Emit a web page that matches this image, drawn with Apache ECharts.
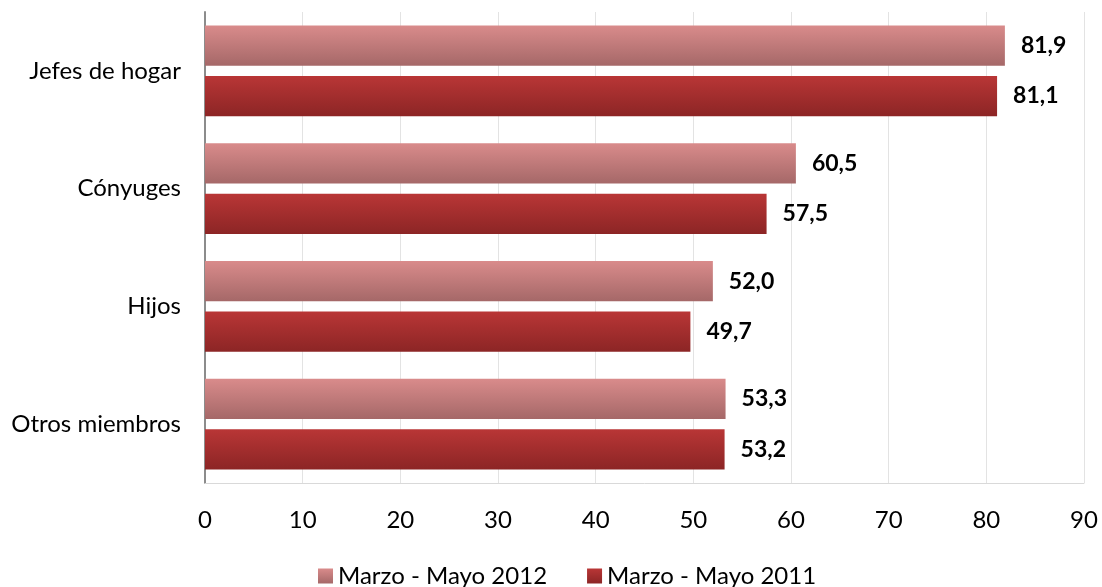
<!DOCTYPE html>
<html><head><meta charset="utf-8">
<script src="https://cdn.jsdelivr.net/npm/echarts@6/dist/echarts.min.js"></script>
<style>html,body{margin:0;padding:0;background:#fff}#c{width:1102px;height:587px}</style>
</head><body><div id="c"></div>
<script>
const categories = ['Jefes de hogar', 'Cónyuges', 'Hijos', 'Otros miembros'];
const seriesNames = ['Marzo - Mayo 2012', 'Marzo - Mayo 2011'];
const values2012 = [81.9, 60.5, 52.0, 53.3];
const values2011 = [81.1, 57.5, 49.7, 53.2];
const xTicks = [0, 90, 10];

const FONT = 'Lato, "Open Sans", sans-serif';
function grad(a, b) {
  return new echarts.graphic.LinearGradient(0, 0, 0, 1, [{offset: 0, color: a}, {offset: 1, color: b}]);
}
const chart = echarts.init(document.getElementById('c'));
const lbl = {
  show: true, position: 'right', distance: 16,
  formatter: p => p.value.toFixed(1).replace('.', ','),
  fontFamily: FONT, fontWeight: 'bold', fontSize: 23, color: '#000'
};
chart.setOption({
  animation: false,
  grid: {left: 205, right: 18, top: 12, bottom: 104, containLabel: false},
  legend: {
    top: 559, left: 313, itemWidth: 15, itemHeight: 15, itemGap: 40,
    icon: 'rect',
    textStyle: {fontFamily: FONT, fontSize: 24, color: '#000'},
    data: seriesNames
  },
  xAxis: {
    type: 'value', min: xTicks[0], max: xTicks[1], interval: xTicks[2],
    axisLine: {show: true, lineStyle: {color: '#d9d9d9'}},
    axisTick: {show: false},
    splitLine: {show: true, lineStyle: {color: '#e3e3e3', width: 1}},
    axisLabel: {fontFamily: FONT, fontSize: 24, color: '#000', margin: 25}
  },
  yAxis: {
    type: 'category', data: categories, inverse: true,
    axisLine: {show: true, lineStyle: {color: '#8c8c8c', width: 2}},
    axisTick: {show: false},
    axisLabel: {fontFamily: FONT, fontSize: 24, color: '#000', margin: 24}
  },
  series: [
    {name: seriesNames[0], type: 'bar', data: values2012, barGap: '25%', barCategoryGap: '23%',
     itemStyle: {color: grad('#d98b8b', '#a56868')}, label: lbl},
    {name: seriesNames[1], type: 'bar', data: values2011,
     itemStyle: {color: grad('#b93636', '#8c2525')}, label: lbl}
  ]
});
</script></body></html>
